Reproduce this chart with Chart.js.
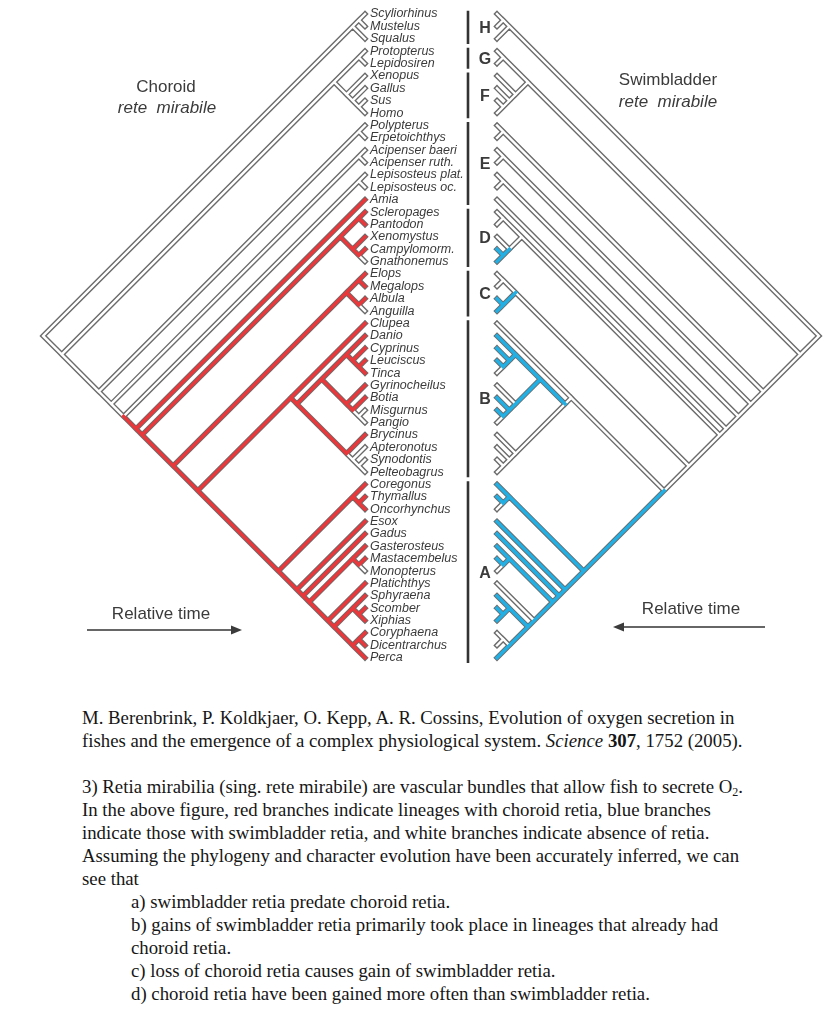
<!DOCTYPE html>
<html>
<head>
<meta charset="utf-8">
<script src="https://cdn.jsdelivr.net/npm/chart.js@4.4.1/dist/chart.umd.min.js"></script>
<style>
  body { margin: 0; background: #fff; width: 826px; height: 1024px; position: relative; overflow: hidden; }
  #fig { position: absolute; left: 0; top: 0; }
  #caption {
    position: absolute; left: 82px; top: 706px;
    font-family: 'Liberation Serif', 'Times New Roman', serif;
    font-size: 18.8px; line-height: 23px; color: #161616;
  }
  #caption div { white-space: nowrap; }
  #caption .opt { padding-left: 49px; }
  #caption sub { font-size: 12px; line-height: 0; vertical-align: -3px; }
</style>
</head>
<body>
<canvas id="fig" width="826" height="690"></canvas>
<div id="caption">
  <div>M. Berenbrink, P. Koldkjaer, O. Kepp, A. R. Cossins, Evolution of oxygen secretion in</div>
  <div>fishes and the emergence of a complex physiological system. <i>Science</i> <b>307</b>, 1752 (2005).</div>
  <div>&nbsp;</div>
  <div>3) Retia mirabilia (sing. rete mirabile) are vascular bundles that allow fish to secrete O<sub>2</sub>.</div>
  <div>In the above figure, red branches indicate lineages with choroid retia, blue branches</div>
  <div>indicate those with swimbladder retia, and white branches indicate absence of retia.</div>
  <div>Assuming the phylogeny and character evolution have been accurately inferred, we can</div>
  <div>see that</div>
  <div class="opt">a) swimbladder retia predate choroid retia.</div>
  <div class="opt">b) gains of swimbladder retia primarily took place in lineages that already had</div>
  <div class="opt">choroid retia.</div>
  <div class="opt">c) loss of choroid retia causes gain of swimbladder retia.</div>
  <div class="opt">d) choroid retia have been gained more often than swimbladder retia.</div>
</div>
<script>
// Taxa, top to bottom
const taxa = [
  "Scyliorhinus", "Mustelus", "Squalus", "Protopterus", "Lepidosiren", "Xenopus", "Gallus", "Sus", "Homo",
  "Polypterus", "Erpetoichthys", "Acipenser baeri", "Acipenser ruth.", "Lepisosteus plat.", "Lepisosteus oc.",
  "Amia", "Scleropages", "Pantodon", "Xenomystus", "Campylomorm.", "Gnathonemus", "Elops", "Megalops",
  "Albula", "Anguilla", "Clupea", "Danio", "Cyprinus", "Leuciscus", "Tinca", "Gyrinocheilus", "Botia",
  "Misgurnus", "Pangio", "Brycinus", "Apteronotus", "Synodontis", "Pelteobagrus", "Coregonus", "Thymallus",
  "Oncorhynchus", "Esox", "Gadus", "Gasterosteus", "Mastacembelus", "Monopterus", "Platichthys", "Sphyraena",
  "Scomber", "Xiphias", "Coryphaena", "Dicentrarchus", "Perca"
];

// Group brackets (first / last taxon index)
const groupNames = ["H", "G", "F", "E", "D", "C", "B", "A"];
const groupFirst = [0, 3, 5, 9, 16, 21, 25, 38];
const groupLast = [2, 4, 8, 15, 20, 24, 37, 52];

// Tree topology, taxa by index
const tree = [
  [[0, 1], 2],
  [
    [[3, 4], [5, [6, [7, 8]]]],
    [
      [9, 10],
      [
        [11, 12],
        [
          [13, 14],
          [
            15,
            [
              [[16, 17], [18, [19, 20]]],
              [
                [[21, 22], [23, 24]],
                [
                  [25, [[[26, [27, [28, 29]]], [30, [31, [32, 33]]]], [34, [35, [36, 37]]]]],
                  [[38, [39, 40]], [41, [42, [[43, [44, 45]], [46, [[47, [48, 49]], [[50, 51], 52]]]]]]]
                ]
              ]
            ]
          ]
        ]
      ]
    ]
  ]
];

// Character changes on the stem of a clade ("first-last" or single taxon index)
const choroidGains = ["15-52"];
const choroidLosses = ["20", "24", "32-33", "35-37", "45"];
const swimbladderGains = ["38-52", "26-33", "19-20", "23-24"];
const swimbladderLosses = ["29", "30", "33", "40", "45", "46", "50-51"];

// Layout constants
const TIP_TOP = 14, TIP_STEP = 12.38;
const LEFT_TIP = 365, RIGHT_TIP = 497, LABEL_X = 370, BAR_X = 468;
const OUTLINE = "#6b6b6b", RED = "#e8383b", BLUE = "#22b0e4";

function tipY(i) { return TIP_TOP + i * TIP_STEP; }

function build(node) {
  if (typeof node === "number") return { first: node, last: node, kids: [] };
  const kids = node.map(build);
  return { first: kids[0].first, last: kids[kids.length - 1].last, kids };
}

// slanted cladogram: node sits where the diagonals of its outer taxa meet
function collect(node, parent, state, gains, losses, out) {
  const key = node.first === node.last ? String(node.first) : node.first + "-" + node.last;
  if (gains.includes(key)) state = 1;
  if (losses.includes(key)) state = 0;
  const y0 = tipY(node.first), y1 = tipY(node.last);
  const here = { depth: (y1 - y0) / 2, y: (y0 + y1) / 2 };
  if (parent) out.push({ a: parent, b: here, state });
  node.kids.forEach(k => collect(k, here, state, gains, losses, out));
}

const root = build(tree);
const leftEdges = [], rightEdges = [];
collect(root, null, 0, choroidGains, choroidLosses, leftEdges);
collect(root, null, 0, swimbladderGains, swimbladderLosses, rightEdges);

function toPoints(edges, side, keep) {
  const pts = [];
  edges.filter(keep).forEach(e => {
    const xa = side === "L" ? LEFT_TIP - e.a.depth : RIGHT_TIP + e.a.depth;
    const xb = side === "L" ? LEFT_TIP - e.b.depth : RIGHT_TIP + e.b.depth;
    pts.push({ x: xa, y: e.a.y }, { x: xb, y: e.b.y }, { x: null, y: null });
  });
  return pts;
}

const all = () => true;
const absent = e => e.state === 0;
const present = e => e.state === 1;

const barPoints = [];
groupFirst.forEach((f, i) => {
  barPoints.push({ x: BAR_X, y: tipY(f) - 2 }, { x: BAR_X, y: tipY(groupLast[i]) + 4 }, { x: null, y: null });
});

function lineSet(data, color, width, order) {
  return {
    data, showLine: true, borderColor: color, borderWidth: width, pointRadius: 0,
    borderCapStyle: "square", borderJoinStyle: "miter", spanGaps: false, order, clip: false
  };
}

// Text, headings and time arrows
const textPlugin = {
  id: "treeText",
  afterDraw(chart) {
    const { ctx, scales: { x, y } } = chart;
    ctx.save();
    ctx.textBaseline = "middle";
    ctx.fillStyle = "#3b3b3b";

    ctx.font = "italic 12.5px 'Liberation Sans', Arial, sans-serif";
    ctx.textAlign = "left";
    taxa.forEach((name, i) => ctx.fillText(name, x.getPixelForValue(LABEL_X), y.getPixelForValue(tipY(i))));

    ctx.font = "bold 16px 'Liberation Sans', Arial, sans-serif";
    ctx.textAlign = "center";
    groupNames.forEach((g, i) => {
      const mid = (tipY(groupFirst[i]) + tipY(groupLast[i])) / 2 + 2;
      ctx.fillText(g, x.getPixelForValue(485), y.getPixelForValue(mid));
    });

    ctx.font = "17px 'Liberation Sans', Arial, sans-serif";
    ctx.fillText("Choroid", x.getPixelForValue(166), y.getPixelForValue(87));
    ctx.fillText("Swimbladder", x.getPixelForValue(668), y.getPixelForValue(80));
    ctx.fillText("Relative time", x.getPixelForValue(161), y.getPixelForValue(614));
    ctx.fillText("Relative time", x.getPixelForValue(691), y.getPixelForValue(609));
    ctx.font = "italic 17px 'Liberation Sans', Arial, sans-serif";
    ctx.fillText("rete  mirabile", x.getPixelForValue(167), y.getPixelForValue(108));
    ctx.fillText("rete  mirabile", x.getPixelForValue(668), y.getPixelForValue(102));

    // arrows
    ctx.strokeStyle = "#333";
    ctx.lineWidth = 1.3;
    const arrow = (x0, x1, yy) => {
      const dir = Math.sign(x1 - x0);
      const px0 = x.getPixelForValue(x0), px1 = x.getPixelForValue(x1), py = y.getPixelForValue(yy);
      ctx.beginPath();
      ctx.moveTo(px0, py);
      ctx.lineTo(px1 - dir * 8, py);
      ctx.stroke();
      ctx.beginPath();
      ctx.moveTo(px1, py);
      ctx.lineTo(px1 - dir * 11, py - 4.5);
      ctx.lineTo(px1 - dir * 11, py + 4.5);
      ctx.closePath();
      ctx.fill();
    };
    arrow(87, 242, 630);
    arrow(765, 613, 627);
    ctx.restore();
  }
};

new Chart(document.getElementById("fig"), {
  type: "scatter",
  data: {
    datasets: [
      lineSet(toPoints(leftEdges, "L", all).concat(toPoints(rightEdges, "R", all)), OUTLINE, 5.2, 4),
      lineSet(toPoints(leftEdges, "L", absent), "#ffffff", 2.4, 3),
      lineSet(toPoints(rightEdges, "R", absent), "#ffffff", 2.4, 3),
      lineSet(toPoints(leftEdges, "L", present), RED, 3.4, 2),
      lineSet(toPoints(rightEdges, "R", present), BLUE, 3.4, 2),
      lineSet(barPoints, "#333333", 2.6, 1)
    ]
  },
  options: {
    responsive: false,
    animation: false,
    events: [],
    layout: { padding: 0 },
    plugins: { legend: { display: false }, tooltip: { enabled: false } },
    scales: {
      x: { type: "linear", min: 0, max: 826, display: false },
      y: { type: "linear", min: 0, max: 690, reverse: true, display: false }
    }
  },
  plugins: [textPlugin]
});
</script>
</body>
</html>
